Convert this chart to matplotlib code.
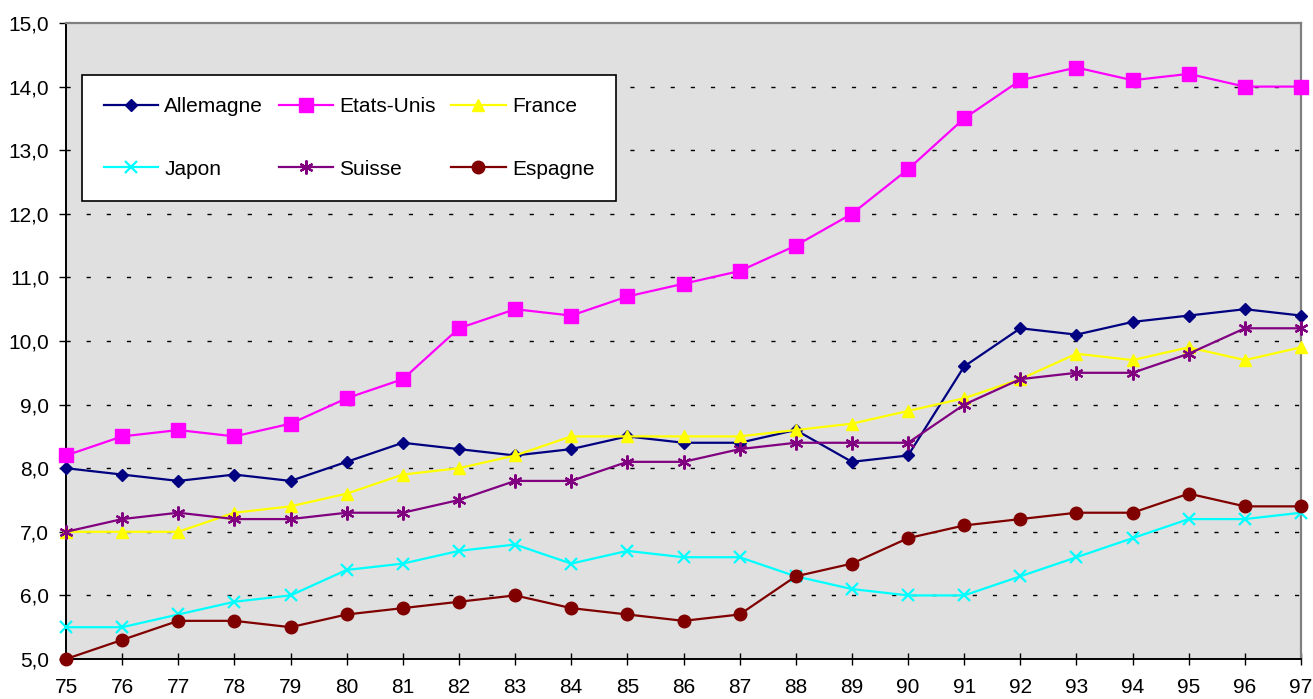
import numpy as np
import matplotlib
matplotlib.use("Agg")
import matplotlib.pyplot as plt

plt.rcParams['font.family'] = ['Liberation Sans', 'DejaVu Sans']

# years 1975-1997, shown as two-digit labels
years = np.arange(75, 98)
year_labels = [str(y) for y in years]

allemagne = [8.0, 7.9, 7.8, 7.9, 7.8, 8.1, 8.4, 8.3, 8.2, 8.3, 8.5, 8.4,
             8.4, 8.6, 8.1, 8.2, 9.6, 10.2, 10.1, 10.3, 10.4, 10.5, 10.4]
etats_unis = [8.2, 8.5, 8.6, 8.5, 8.7, 9.1, 9.4, 10.2, 10.5, 10.4, 10.7, 10.9,
              11.1, 11.5, 12.0, 12.7, 13.5, 14.1, 14.3, 14.1, 14.2, 14.0, 14.0]
france = [7.0, 7.0, 7.0, 7.3, 7.4, 7.6, 7.9, 8.0, 8.2, 8.5, 8.5, 8.5,
          8.5, 8.6, 8.7, 8.9, 9.1, 9.4, 9.8, 9.7, 9.9, 9.7, 9.9]
japon = [5.5, 5.5, 5.7, 5.9, 6.0, 6.4, 6.5, 6.7, 6.8, 6.5, 6.7, 6.6,
         6.6, 6.3, 6.1, 6.0, 6.0, 6.3, 6.6, 6.9, 7.2, 7.2, 7.3]
suisse = [7.0, 7.2, 7.3, 7.2, 7.2, 7.3, 7.3, 7.5, 7.8, 7.8, 8.1, 8.1,
          8.3, 8.4, 8.4, 8.4, 9.0, 9.4, 9.5, 9.5, 9.8, 10.2, 10.2]
espagne = [5.0, 5.3, 5.6, 5.6, 5.5, 5.7, 5.8, 5.9, 6.0, 5.8, 5.7, 5.6,
           5.7, 6.3, 6.5, 6.9, 7.1, 7.2, 7.3, 7.3, 7.6, 7.4, 7.4]

y_ticks = np.arange(5, 15.5, 1)

fig = plt.figure(figsize=(13.13, 6.99), dpi=100)
ax = fig.add_axes([66 / 1313, 1 - 659 / 699, (1301 - 66) / 1313, (659 - 23) / 699])
ax.set_facecolor('#e0e0e0')

# name, values, colour, marker, marker size
series = [
    ("Allemagne", allemagne, '#000080', 'D', 6),
    ("Etats-Unis", etats_unis, '#ff00ff', 's', 9.5),
    ("France", france, '#ffff00', '^', 9),
    ("Japon", japon, '#00ffff', 'x', 9),
    ("Suisse", suisse, '#800080', (6, 2, 0), 10),
    ("Espagne", espagne, '#800000', 'o', 9),
]

lines = []
for name, vals, col, mk, ms in series:
    mew = 1.6 if mk in ('x', (6, 2, 0)) else 1
    ln, = ax.plot(years, vals, color=col, lw=1.6, marker=mk, markersize=ms,
                  markerfacecolor=col, markeredgecolor=col, markeredgewidth=mew,
                  label=name, clip_on=False, zorder=3)
    lines.append(ln)

ax.set_xlim(75, 97)
ax.set_ylim(5, 15)
ax.set_xticks(years)
ax.set_xticklabels(year_labels)
ax.set_yticks(y_ticks)
ax.set_yticklabels([f"{v:.1f}".replace('.', ',') for v in y_ticks])

# dashed horizontal grid, skipping the frame edges
for v in y_ticks[1:-1]:
    ax.axhline(v, color='black', lw=1, linestyle=(0, (3, 11.5)), zorder=1)

ax.tick_params(axis='x', direction='inout', length=9, width=1, pad=9, labelsize=15)
ax.tick_params(axis='y', direction='out', length=5, width=1, pad=7, labelsize=15)

for side in ('left', 'bottom'):
    ax.spines[side].set_color('black')
    ax.spines[side].set_linewidth(1.4)
for side in ('top', 'right'):
    ax.spines[side].set_color('#808080')
    ax.spines[side].set_linewidth(1.6)

# legend fills by column, so reorder to read row by row
order = [0, 3, 1, 4, 2, 5]
leg = ax.legend([lines[i] for i in order], [series[i][0] for i in order],
                loc='upper left', bbox_to_anchor=(82 / 1313, 1 - 75 / 699),
                bbox_transform=fig.transFigure, ncol=3, fontsize=15,
                frameon=True, fancybox=False, framealpha=1, borderaxespad=0,
                handlelength=2.6, handletextpad=0.3, columnspacing=0.75,
                labelspacing=2.1, borderpad=1.05)
leg.get_frame().set_edgecolor('black')
leg.get_frame().set_linewidth(1.2)

fig.savefig('out.png', dpi=100, facecolor='white')
